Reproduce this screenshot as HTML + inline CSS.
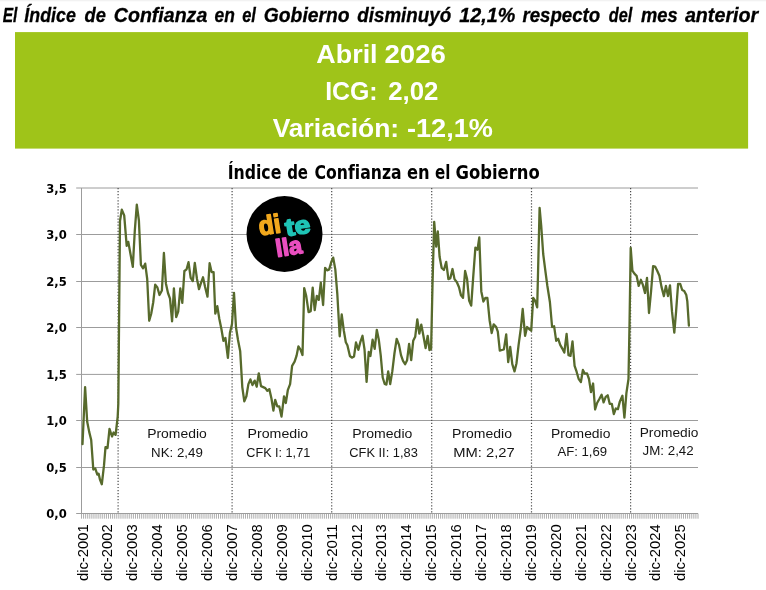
<!DOCTYPE html>
<html lang="es"><head><meta charset="utf-8"><title>Índice de Confianza en el Gobierno</title>
<style>html,body{margin:0;padding:0;background:#fff}svg{display:block;will-change:transform}text{font-family:"Liberation Sans",sans-serif}.tah{font-family:"DejaVu Sans Condensed","DejaVu Sans","Liberation Sans",sans-serif;font-weight:bold}</style></head><body>
<svg width="766" height="590" viewBox="0 0 766 590">
<rect x="0" y="0" width="766" height="590" fill="#fff"/>
<rect x="0" y="0" width="766" height="1.3" fill="#f2f2f2"/>
<text y="21.6" font-size="20" font-weight="bold" font-style="italic" fill="#000" stroke="#000" stroke-width="0.3">
<tspan x="2.78" textLength="14.66" lengthAdjust="spacingAndGlyphs">El</tspan>
<tspan x="24.32" textLength="51.57" lengthAdjust="spacingAndGlyphs">Índice</tspan>
<tspan x="84.59" textLength="21.34" lengthAdjust="spacingAndGlyphs">de</tspan>
<tspan x="113.81" textLength="93.50" lengthAdjust="spacingAndGlyphs">Confianza</tspan>
<tspan x="214.58" textLength="20.33" lengthAdjust="spacingAndGlyphs">en</tspan>
<tspan x="242.24" textLength="13.71" lengthAdjust="spacingAndGlyphs">el</tspan>
<tspan x="263.83" textLength="85.74" lengthAdjust="spacingAndGlyphs">Gobierno</tspan>
<tspan x="357.27" textLength="93.95" lengthAdjust="spacingAndGlyphs">disminuyó</tspan>
<tspan x="459.31" textLength="55.88" lengthAdjust="spacingAndGlyphs">12,1%</tspan>
<tspan x="522.42" textLength="77.75" lengthAdjust="spacingAndGlyphs">respecto</tspan>
<tspan x="608.78" textLength="23.40" lengthAdjust="spacingAndGlyphs">del</tspan>
<tspan x="640.96" textLength="36.66" lengthAdjust="spacingAndGlyphs">mes</tspan>
<tspan x="684.88" textLength="73.36" lengthAdjust="spacingAndGlyphs">anterior</tspan>
</text>
<rect x="15" y="32.1" width="733.1" height="116.5" fill="#9fc419"/>
<text y="63.3" font-size="26" font-weight="bold" fill="#fff">
<tspan x="316.38" textLength="61.21" lengthAdjust="spacingAndGlyphs">Abril</tspan>
<tspan x="384.50" textLength="61.40" lengthAdjust="spacingAndGlyphs">2026</tspan>
</text>
<text y="100.2" font-size="26" font-weight="bold" fill="#fff">
<tspan x="325.14" textLength="52.54" lengthAdjust="spacingAndGlyphs">ICG:</tspan>
<tspan x="388.22" textLength="50.27" lengthAdjust="spacingAndGlyphs">2,02</tspan>
</text>
<text y="137" font-size="26" font-weight="bold" fill="#fff">
<tspan x="272.68" textLength="126.44" lengthAdjust="spacingAndGlyphs">Variación:</tspan>
<tspan x="406.94" textLength="85.99" lengthAdjust="spacingAndGlyphs">-12,1%</tspan>
</text>
<text class="tah" y="178.5" font-size="18.9" fill="#000">
<tspan x="227.66" textLength="53.73" lengthAdjust="spacingAndGlyphs">Índice</tspan>
<tspan x="287.15" textLength="20.89" lengthAdjust="spacingAndGlyphs">de</tspan>
<tspan x="314.61" textLength="86.97" lengthAdjust="spacingAndGlyphs">Confianza</tspan>
<tspan x="406.91" textLength="22.68" lengthAdjust="spacingAndGlyphs">en</tspan>
<tspan x="435.12" textLength="15.40" lengthAdjust="spacingAndGlyphs">el</tspan>
<tspan x="455.50" textLength="84.25" lengthAdjust="spacingAndGlyphs">Gobierno</tspan>
</text>
<g stroke="#9c9c9c" stroke-width="1" fill="none">
<line x1="76.2" y1="513.50" x2="698" y2="513.50"/>
<line x1="76.2" y1="467.50" x2="698" y2="467.50"/>
<line x1="76.2" y1="420.50" x2="698" y2="420.50"/>
<line x1="76.2" y1="374.40" x2="698" y2="374.40"/>
<line x1="76.2" y1="327.50" x2="698" y2="327.50"/>
<line x1="76.2" y1="281.50" x2="698" y2="281.50"/>
<line x1="76.2" y1="234.50" x2="698" y2="234.50"/>
<line x1="76.2" y1="188.00" x2="698" y2="188.00"/>
<line x1="81.5" y1="188.00" x2="81.5" y2="513.50"/>
</g>
<path d="M81.50 513.5V518.7M83.58 513.5V518.7M85.65 513.5V518.7M87.73 513.5V518.7M89.80 513.5V518.7M91.88 513.5V518.7M93.95 513.5V518.7M96.03 513.5V518.7M98.11 513.5V518.7M100.18 513.5V518.7M102.26 513.5V518.7M104.33 513.5V518.7M106.41 513.5V518.7M108.48 513.5V518.7M110.56 513.5V518.7M112.64 513.5V518.7M114.71 513.5V518.7M116.79 513.5V518.7M118.86 513.5V518.7M120.94 513.5V518.7M123.02 513.5V518.7M125.09 513.5V518.7M127.17 513.5V518.7M129.24 513.5V518.7M131.32 513.5V518.7M133.39 513.5V518.7M135.47 513.5V518.7M137.55 513.5V518.7M139.62 513.5V518.7M141.70 513.5V518.7M143.77 513.5V518.7M145.85 513.5V518.7M147.92 513.5V518.7M150.00 513.5V518.7M152.08 513.5V518.7M154.15 513.5V518.7M156.23 513.5V518.7M158.30 513.5V518.7M160.38 513.5V518.7M162.45 513.5V518.7M164.53 513.5V518.7M166.61 513.5V518.7M168.68 513.5V518.7M170.76 513.5V518.7M172.83 513.5V518.7M174.91 513.5V518.7M176.98 513.5V518.7M179.06 513.5V518.7M181.14 513.5V518.7M183.21 513.5V518.7M185.29 513.5V518.7M187.36 513.5V518.7M189.44 513.5V518.7M191.52 513.5V518.7M193.59 513.5V518.7M195.67 513.5V518.7M197.74 513.5V518.7M199.82 513.5V518.7M201.89 513.5V518.7M203.97 513.5V518.7M206.05 513.5V518.7M208.12 513.5V518.7M210.20 513.5V518.7M212.27 513.5V518.7M214.35 513.5V518.7M216.42 513.5V518.7M218.50 513.5V518.7M220.58 513.5V518.7M222.65 513.5V518.7M224.73 513.5V518.7M226.80 513.5V518.7M228.88 513.5V518.7M230.95 513.5V518.7M233.03 513.5V518.7M235.11 513.5V518.7M237.18 513.5V518.7M239.26 513.5V518.7M241.33 513.5V518.7M243.41 513.5V518.7M245.48 513.5V518.7M247.56 513.5V518.7M249.64 513.5V518.7M251.71 513.5V518.7M253.79 513.5V518.7M255.86 513.5V518.7M257.94 513.5V518.7M260.02 513.5V518.7M262.09 513.5V518.7M264.17 513.5V518.7M266.24 513.5V518.7M268.32 513.5V518.7M270.39 513.5V518.7M272.47 513.5V518.7M274.55 513.5V518.7M276.62 513.5V518.7M278.70 513.5V518.7M280.77 513.5V518.7M282.85 513.5V518.7M284.92 513.5V518.7M287.00 513.5V518.7M289.08 513.5V518.7M291.15 513.5V518.7M293.23 513.5V518.7M295.30 513.5V518.7M297.38 513.5V518.7M299.45 513.5V518.7M301.53 513.5V518.7M303.61 513.5V518.7M305.68 513.5V518.7M307.76 513.5V518.7M309.83 513.5V518.7M311.91 513.5V518.7M313.98 513.5V518.7M316.06 513.5V518.7M318.14 513.5V518.7M320.21 513.5V518.7M322.29 513.5V518.7M324.36 513.5V518.7M326.44 513.5V518.7M328.52 513.5V518.7M330.59 513.5V518.7M332.67 513.5V518.7M334.74 513.5V518.7M336.82 513.5V518.7M338.89 513.5V518.7M340.97 513.5V518.7M343.05 513.5V518.7M345.12 513.5V518.7M347.20 513.5V518.7M349.27 513.5V518.7M351.35 513.5V518.7M353.42 513.5V518.7M355.50 513.5V518.7M357.58 513.5V518.7M359.65 513.5V518.7M361.73 513.5V518.7M363.80 513.5V518.7M365.88 513.5V518.7M367.95 513.5V518.7M370.03 513.5V518.7M372.11 513.5V518.7M374.18 513.5V518.7M376.26 513.5V518.7M378.33 513.5V518.7M380.41 513.5V518.7M382.48 513.5V518.7M384.56 513.5V518.7M386.64 513.5V518.7M388.71 513.5V518.7M390.79 513.5V518.7M392.86 513.5V518.7M394.94 513.5V518.7M397.02 513.5V518.7M399.09 513.5V518.7M401.17 513.5V518.7M403.24 513.5V518.7M405.32 513.5V518.7M407.39 513.5V518.7M409.47 513.5V518.7M411.55 513.5V518.7M413.62 513.5V518.7M415.70 513.5V518.7M417.77 513.5V518.7M419.85 513.5V518.7M421.92 513.5V518.7M424.00 513.5V518.7M426.08 513.5V518.7M428.15 513.5V518.7M430.23 513.5V518.7M432.30 513.5V518.7M434.38 513.5V518.7M436.45 513.5V518.7M438.53 513.5V518.7M440.61 513.5V518.7M442.68 513.5V518.7M444.76 513.5V518.7M446.83 513.5V518.7M448.91 513.5V518.7M450.98 513.5V518.7M453.06 513.5V518.7M455.14 513.5V518.7M457.21 513.5V518.7M459.29 513.5V518.7M461.36 513.5V518.7M463.44 513.5V518.7M465.52 513.5V518.7M467.59 513.5V518.7M469.67 513.5V518.7M471.74 513.5V518.7M473.82 513.5V518.7M475.89 513.5V518.7M477.97 513.5V518.7M480.05 513.5V518.7M482.12 513.5V518.7M484.20 513.5V518.7M486.27 513.5V518.7M488.35 513.5V518.7M490.42 513.5V518.7M492.50 513.5V518.7M494.58 513.5V518.7M496.65 513.5V518.7M498.73 513.5V518.7M500.80 513.5V518.7M502.88 513.5V518.7M504.95 513.5V518.7M507.03 513.5V518.7M509.11 513.5V518.7M511.18 513.5V518.7M513.26 513.5V518.7M515.33 513.5V518.7M517.41 513.5V518.7M519.48 513.5V518.7M521.56 513.5V518.7M523.64 513.5V518.7M525.71 513.5V518.7M527.79 513.5V518.7M529.86 513.5V518.7M531.94 513.5V518.7M534.02 513.5V518.7M536.09 513.5V518.7M538.17 513.5V518.7M540.24 513.5V518.7M542.32 513.5V518.7M544.39 513.5V518.7M546.47 513.5V518.7M548.55 513.5V518.7M550.62 513.5V518.7M552.70 513.5V518.7M554.77 513.5V518.7M556.85 513.5V518.7M558.92 513.5V518.7M561.00 513.5V518.7M563.08 513.5V518.7M565.15 513.5V518.7M567.23 513.5V518.7M569.30 513.5V518.7M571.38 513.5V518.7M573.45 513.5V518.7M575.53 513.5V518.7M577.61 513.5V518.7M579.68 513.5V518.7M581.76 513.5V518.7M583.83 513.5V518.7M585.91 513.5V518.7M587.98 513.5V518.7M590.06 513.5V518.7M592.14 513.5V518.7M594.21 513.5V518.7M596.29 513.5V518.7M598.36 513.5V518.7M600.44 513.5V518.7M602.52 513.5V518.7M604.59 513.5V518.7M606.67 513.5V518.7M608.74 513.5V518.7M610.82 513.5V518.7M612.89 513.5V518.7M614.97 513.5V518.7M617.05 513.5V518.7M619.12 513.5V518.7M621.20 513.5V518.7M623.27 513.5V518.7M625.35 513.5V518.7M627.42 513.5V518.7M629.50 513.5V518.7M631.58 513.5V518.7M633.65 513.5V518.7M635.73 513.5V518.7M637.80 513.5V518.7M639.88 513.5V518.7M641.95 513.5V518.7M644.03 513.5V518.7M646.11 513.5V518.7M648.18 513.5V518.7M650.26 513.5V518.7M652.33 513.5V518.7M654.41 513.5V518.7M656.48 513.5V518.7M658.56 513.5V518.7M660.64 513.5V518.7M662.71 513.5V518.7M664.79 513.5V518.7M666.86 513.5V518.7M668.94 513.5V518.7M671.02 513.5V518.7M673.09 513.5V518.7M675.17 513.5V518.7M677.24 513.5V518.7M679.32 513.5V518.7M681.39 513.5V518.7M683.47 513.5V518.7M685.55 513.5V518.7M687.62 513.5V518.7M689.70 513.5V518.7M691.77 513.5V518.7M693.85 513.5V518.7M695.92 513.5V518.7M698.00 513.5V518.7" stroke="#9e9e9e" stroke-width="0.85" fill="none"/>
<g class="tah" font-size="12.9" fill="#000" text-anchor="end">
<text class="tah" x="66.8" y="518.2" textLength="20.5" lengthAdjust="spacingAndGlyphs">0,0</text>
<text class="tah" x="66.8" y="472.2" textLength="20.5" lengthAdjust="spacingAndGlyphs">0,5</text>
<text class="tah" x="66.8" y="425.2" textLength="20.5" lengthAdjust="spacingAndGlyphs">1,0</text>
<text class="tah" x="66.8" y="379.1" textLength="20.5" lengthAdjust="spacingAndGlyphs">1,5</text>
<text class="tah" x="66.8" y="332.2" textLength="20.5" lengthAdjust="spacingAndGlyphs">2,0</text>
<text class="tah" x="66.8" y="286.2" textLength="20.5" lengthAdjust="spacingAndGlyphs">2,5</text>
<text class="tah" x="66.8" y="239.2" textLength="20.5" lengthAdjust="spacingAndGlyphs">3,0</text>
<text class="tah" x="66.8" y="192.8" textLength="20.5" lengthAdjust="spacingAndGlyphs">3,5</text>
</g>
<g stroke="#4a4a4a" stroke-width="1.2" stroke-dasharray="1.2 1.85" fill="none">
<line x1="118.1" y1="188.0" x2="118.1" y2="513.5"/>
<line x1="232.1" y1="188.0" x2="232.1" y2="513.5"/>
<line x1="331.7" y1="188.0" x2="331.7" y2="513.5"/>
<line x1="431.7" y1="188.0" x2="431.7" y2="513.5"/>
<line x1="531.5" y1="188.0" x2="531.5" y2="513.5"/>
<line x1="630.6" y1="188.0" x2="630.6" y2="513.5"/>
</g>
<circle cx="284.5" cy="234" r="38" fill="#000"/>
<g font-weight="bold" font-size="24.5" stroke-width="1.5" stroke-linejoin="round">
<text transform="translate(260.0,235.5) rotate(-9)" font-size="26.5" fill="#f2a81d" stroke="#f2a81d" textLength="22" lengthAdjust="spacingAndGlyphs">di</text>
<text transform="translate(286.4,236.3) rotate(-9)" fill="#1fc4b6" stroke="#1fc4b6" textLength="25.2" lengthAdjust="spacingAndGlyphs">te</text>
<text transform="translate(277.0,257.0) rotate(-9)" fill="#ea4fc0" stroke="#ea4fc0" textLength="26.3" lengthAdjust="spacingAndGlyphs">lla</text>
</g>
<polyline points="82.5,444.1 85.1,387.1 87.2,421.7 89.2,431.9 91.2,440 93.3,469.5 95.3,468.5 97.3,474.6 98.6,473.6 100,479.7 101.8,484.3 104,465.4 105.5,447.1 107.5,448.1 109.5,428.8 112,436.5 113.6,432.5 115.6,434.9 117.7,416.6 118.3,404 120.0,221 121.8,209.7 124.2,215.4 126.7,245.9 128.3,241.9 130.3,253 132.8,266.9 134.8,230.7 136.8,204.6 138.9,220.5 140.9,264.8 143.1,268.3 145.2,263.6 147.2,279 149.2,320.8 151.2,313.7 153.2,302.5 155.2,284.6 157.4,287.5 159.5,295 161.9,290.5 163.9,253 165.9,283.4 168,293 170,298.6 172.1,321.3 173.9,288.4 176.2,317.2 178.2,311.7 180.3,288.3 182.3,302.9 184.4,271 186.6,269.3 188.5,262.2 190.7,277.8 192.8,281.1 194.8,262.8 197,279 199,289.2 201,282.8 203,277.3 205.1,287 207.5,296.6 209.6,263.2 211.6,272 213.6,272.2 215.3,313.7 217.3,306.2 219.3,318.8 221.4,329 223.4,340.8 225.4,338 227.9,357.8 229.9,333 232,324 234,292.8 236,327.5 238,340 240.2,351.3 242.3,387.1 244.3,401.4 246.4,396.3 248.4,384.1 250.4,379.4 252.5,385.1 254.7,380.6 256.7,386.7 258.8,373.3 261,386.1 263.2,387.1 265.3,388.1 267.3,390.8 269.3,389.1 271.4,398.3 273.4,410.5 275.2,399.9 277.3,406.4 279.3,406.4 281.5,416.6 284,396.3 285.8,403 287.8,390.2 290.1,384.1 292.1,365.8 294.6,361.7 296.6,355.6 298.4,346.5 300.5,349.6 302.5,355 304.2,288.1 306.2,295.8 308.6,312.1 310.7,311.1 312.7,287.7 314.7,310.1 316.8,295.8 318.8,299.9 320.8,282.6 323.1,305 325.1,267.8 327.1,270.4 329.2,269.4 331.2,262.3 333.2,257.6 335.3,269.4 337.3,293.8 339.7,336.3 341.7,314.5 343.8,330.5 345.8,342.3 347.4,345.3 349.9,356 351.9,357.7 354,356.6 356,342.5 358.4,349.8 360.4,341.8 362.5,335.8 364.5,349.3 366.6,381.9 368.7,352 370.4,356 372.6,339.7 374.7,348.8 376.8,329.8 378.8,339.7 380.7,355.1 382.7,377.5 384.7,384 386.4,384.6 388.2,371.4 390.2,384 392.3,371.4 394.5,353 396.7,338.8 399,344.9 401,355.1 403,360.8 405.1,364.2 407.1,360.2 409.1,343.9 411.2,360.2 413.2,340.8 415.2,336.8 417.3,319.5 419.3,333.7 421.3,324.6 423.4,335.8 425.6,348 427.7,335.8 429.5,350 431.1,349 432.5,285 434.2,221.8 436.2,246.6 437.8,231.4 439.6,256.8 441.7,268 443.9,270 446.2,261.9 448.4,279.1 450.4,278.1 452.5,269 454.5,279.1 456.9,282.2 459,287.3 461,295.4 463,297.9 465.1,271 467.1,279.1 469.1,300.5 471.2,305.6 473.2,277.1 475.4,247.6 477.5,249.7 479.3,237.5 481.3,291.4 483.4,301.5 485.4,297.9 487.4,298 489.6,320.2 491.7,333 493.7,324.3 496,326.7 497.8,331.7 499.8,350.6 501.9,350 503.9,349.4 506.2,334.3 508.2,362.2 510.2,346.9 512.3,364.2 514.5,371.4 516.5,363.2 518.6,344.9 520.8,328.6 522.7,309 525.1,335.8 527.1,327 529.1,329 531.2,330.7 533.2,298 535.2,301 537.2,307.3 539.6,207.8 541.2,225.5 543.2,254 545.3,270.3 547.3,285.5 549.9,302 552.1,327 554.1,326.2 556.2,340.8 558.2,338.8 560.2,344.9 562.3,348.6 564.3,352.6 566.6,333.8 568.5,355.2 570.5,355.8 572.5,341.4 574.6,365.8 576.6,371.7 578.6,378.8 580.9,382 582.9,370 584.9,373.7 587,373.3 589,379 591,392.2 593.1,383.5 595.1,409.5 597.1,403 599.2,399.3 601.6,394.8 603.6,402.4 605.7,396.9 607.7,395.3 609.7,403.8 611.8,403.8 613.8,414 615.8,408.5 617.9,409.1 619.9,401.4 622.4,395.7 624.4,417.6 626.4,393.2 628.5,379 629.6,320 630.7,247.9 632.4,270.7 634.4,273.7 636.6,275.8 638.7,285.9 640.9,279.8 642.9,284.9 645,293 647,277.8 649,313 651.1,291 653.1,266.2 655.1,266.6 657.2,270.7 659.4,275.8 661.5,286.9 663.9,296.1 665.9,285.9 668,296.1 670,285.3 672,311.4 674.3,332.7 676.1,311.4 678.1,283.9 680.2,283.9 682.2,290 684.2,291 686.3,295.1 687.3,301.2 688.9,325.6" fill="none" stroke="#576a2c" stroke-width="2.3" stroke-linejoin="round" stroke-linecap="round"/>
<g font-size="13.6" fill="#141414">
<text x="147.2" y="438.3" textLength="59.6" lengthAdjust="spacingAndGlyphs">Promedio</text>
<text x="151.1" y="456.6" textLength="51.7" lengthAdjust="spacingAndGlyphs">NK: 2,49</text>
<text x="247.5" y="438.3" textLength="60.7" lengthAdjust="spacingAndGlyphs">Promedio</text>
<text x="246.3" y="456.6" textLength="63.9" lengthAdjust="spacingAndGlyphs">CFK I: 1,71</text>
<text x="352.2" y="438.3" textLength="60.2" lengthAdjust="spacingAndGlyphs">Promedio</text>
<text x="349.3" y="456.6" textLength="68.5" lengthAdjust="spacingAndGlyphs">CFK II: 1,83</text>
<text x="452.1" y="438.3" textLength="59.9" lengthAdjust="spacingAndGlyphs">Promedio</text>
<text x="453.3" y="456.6" textLength="61.5" lengthAdjust="spacingAndGlyphs">MM: 2,27</text>
<text x="551.0" y="438.0" textLength="59.4" lengthAdjust="spacingAndGlyphs">Promedio</text>
<text x="557.4" y="456.0" textLength="49.7" lengthAdjust="spacingAndGlyphs">AF: 1,69</text>
<text x="639.7" y="436.8" textLength="58.7" lengthAdjust="spacingAndGlyphs">Promedio</text>
<text x="642.6" y="455.0" textLength="51.1" lengthAdjust="spacingAndGlyphs">JM: 2,42</text>
</g>
<g font-size="14.6" fill="#000">
<text transform="translate(87.54,581.0) rotate(-90)" textLength="56.6" lengthAdjust="spacingAndGlyphs">dic-2001</text>
<text transform="translate(112.45,581.0) rotate(-90)" textLength="56.6" lengthAdjust="spacingAndGlyphs">dic-2002</text>
<text transform="translate(137.36,581.0) rotate(-90)" textLength="56.6" lengthAdjust="spacingAndGlyphs">dic-2003</text>
<text transform="translate(162.27,581.0) rotate(-90)" textLength="56.6" lengthAdjust="spacingAndGlyphs">dic-2004</text>
<text transform="translate(187.17,581.0) rotate(-90)" textLength="56.6" lengthAdjust="spacingAndGlyphs">dic-2005</text>
<text transform="translate(212.08,581.0) rotate(-90)" textLength="56.6" lengthAdjust="spacingAndGlyphs">dic-2006</text>
<text transform="translate(236.99,581.0) rotate(-90)" textLength="56.6" lengthAdjust="spacingAndGlyphs">dic-2007</text>
<text transform="translate(261.90,581.0) rotate(-90)" textLength="56.6" lengthAdjust="spacingAndGlyphs">dic-2008</text>
<text transform="translate(286.81,581.0) rotate(-90)" textLength="56.6" lengthAdjust="spacingAndGlyphs">dic-2009</text>
<text transform="translate(311.72,581.0) rotate(-90)" textLength="56.6" lengthAdjust="spacingAndGlyphs">dic-2010</text>
<text transform="translate(336.63,581.0) rotate(-90)" textLength="56.6" lengthAdjust="spacingAndGlyphs">dic-2011</text>
<text transform="translate(361.54,581.0) rotate(-90)" textLength="56.6" lengthAdjust="spacingAndGlyphs">dic-2012</text>
<text transform="translate(386.45,581.0) rotate(-90)" textLength="56.6" lengthAdjust="spacingAndGlyphs">dic-2013</text>
<text transform="translate(411.36,581.0) rotate(-90)" textLength="56.6" lengthAdjust="spacingAndGlyphs">dic-2014</text>
<text transform="translate(436.27,581.0) rotate(-90)" textLength="56.6" lengthAdjust="spacingAndGlyphs">dic-2015</text>
<text transform="translate(461.17,581.0) rotate(-90)" textLength="56.6" lengthAdjust="spacingAndGlyphs">dic-2016</text>
<text transform="translate(486.08,581.0) rotate(-90)" textLength="56.6" lengthAdjust="spacingAndGlyphs">dic-2017</text>
<text transform="translate(510.99,581.0) rotate(-90)" textLength="56.6" lengthAdjust="spacingAndGlyphs">dic-2018</text>
<text transform="translate(535.90,581.0) rotate(-90)" textLength="56.6" lengthAdjust="spacingAndGlyphs">dic-2019</text>
<text transform="translate(560.81,581.0) rotate(-90)" textLength="56.6" lengthAdjust="spacingAndGlyphs">dic-2020</text>
<text transform="translate(585.72,581.0) rotate(-90)" textLength="56.6" lengthAdjust="spacingAndGlyphs">dic-2021</text>
<text transform="translate(610.63,581.0) rotate(-90)" textLength="56.6" lengthAdjust="spacingAndGlyphs">dic-2022</text>
<text transform="translate(635.54,581.0) rotate(-90)" textLength="56.6" lengthAdjust="spacingAndGlyphs">dic-2023</text>
<text transform="translate(660.45,581.0) rotate(-90)" textLength="56.6" lengthAdjust="spacingAndGlyphs">dic-2024</text>
<text transform="translate(685.36,581.0) rotate(-90)" textLength="56.6" lengthAdjust="spacingAndGlyphs">dic-2025</text>
</g>
</svg></body></html>
